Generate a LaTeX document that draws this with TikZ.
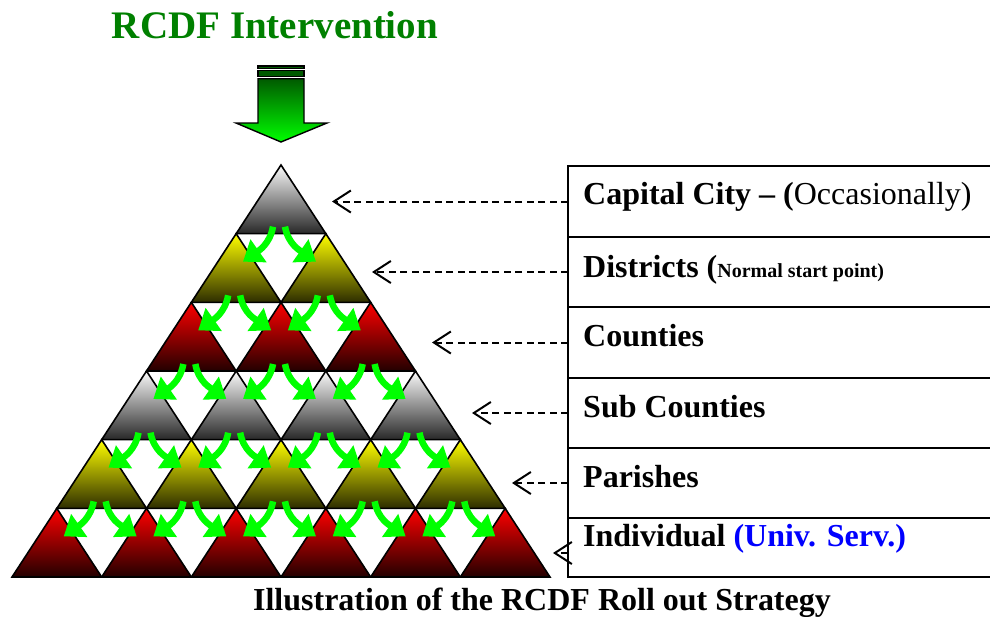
\documentclass[tikz,border=0pt]{standalone}
\usepackage{fontspec}
\setmainfont{Liberation Serif}
\usetikzlibrary{arrows.meta}

\definecolor{titlegreen}{RGB}{0,128,0}
\definecolor{flowgreen}{RGB}{0,255,0}
\definecolor{stemgreen}{RGB}{0,90,0}
\definecolor{servblue}{RGB}{0,0,255}
\definecolor{graytop}{RGB}{250,250,250}
\definecolor{graybottom}{RGB}{40,40,40}
\definecolor{yellowtop}{RGB}{255,255,0}
\definecolor{yellowbottom}{RGB}{45,45,0}
\definecolor{redtop}{RGB}{255,0,0}
\definecolor{redbottom}{RGB}{35,0,0}

\tikzset{
  tri/.style={draw=black, line width=1.6pt},
  flow/.style={draw=flowgreen, line width=6.5pt, -{Triangle[length=19pt 0 0,width=27pt 0 0]}},
  pointer/.style={dash pattern=on 7pt off 4.5pt, line width=2pt, -{Straight Barb[length=17pt 0 0,width=22pt 0 0]}},
  levelbox/.style={draw, line width=1.8pt, minimum width=440pt, anchor=north west, inner sep=0pt, outer sep=0pt},
  leveltext/.style={anchor=base west, inner sep=0pt, font=\fontsize{32}{38}\selectfont},
}

\begin{document}
\begin{tikzpicture}[x=1pt, y=1pt]
  \useasboundingbox (0,0) rectangle (990,-616);

  % Title and intervention arrow
  \node[titlegreen, font=\fontsize{39}{46}\selectfont\bfseries, anchor=base] (title) at (275,-38) {RCDF Intervention};
  \filldraw[fill=stemgreen, draw=black, line width=1.2pt] (258,-66) rectangle (304,-68.7);
  \filldraw[fill=stemgreen, draw=black, line width=1.2pt] (258,-70.7) rectangle (304,-76.7);
  \shadedraw[top color=stemgreen, bottom color=flowgreen, draw=black, line width=1.4pt]
    (258,-78.7) -- (304,-78.7) -- (304,-123) -- (327,-123) -- (281,-142) -- (236,-123) -- (258,-123) -- cycle;

  % Pyramid of levels
  \foreach \r/\ctop/\cbot in {1/graytop/graybottom, 2/yellowtop/yellowbottom, 3/redtop/redbottom,
                              4/graytop/graybottom, 5/yellowtop/yellowbottom, 6/redtop/redbottom} {
    \foreach \i in {1,...,\r} {
      \pgfmathsetmacro{\cx}{281+(2*\i-\r-1)*44.83}
      \pgfmathsetmacro{\cy}{-165-(\r-1)*68.67}
      \shadedraw[tri, top color=\ctop, bottom color=\cbot] (\cx,\cy) -- ++(-44.83,-68.67) -- ++(89.67,0) -- cycle;
    }
  }

  % Roll out arrows
  \foreach \r in {1,...,5} {
    \foreach \i in {1,...,\r} {
      \pgfmathsetmacro{\cx}{281+(2*\i-\r-1)*44.83}
      \pgfmathsetmacro{\cy}{-165-\r*68.67}
      \draw[flow] (\cx-8,\cy+7) to[out=-100,in=35] (\cx-38,\cy-28);
      \draw[flow] (\cx+4,\cy+7) to[out=-80,in=145] (\cx+35,\cy-28);
    }
  }

  % Level boxes
  \node[levelbox, minimum height=71pt] (capital) at (568,-166) {};
  \node[levelbox, minimum height=70pt] (districts) at (568,-237) {};
  \node[levelbox, minimum height=71pt] (counties) at (568,-307) {};
  \node[levelbox, minimum height=70pt] (subcounties) at (568,-378) {};
  \node[levelbox, minimum height=70pt] (parishes) at (568,-448) {};
  \node[levelbox, minimum height=59pt] (individual) at (568,-518) {};

  % Level names
  \node[leveltext] (capitaltext) at (583,-204) {\textbf{Capital City – (}Occasionally)};
  \node[leveltext] (districtstext) at (583,-277) {\textbf{Districts (}{\fontsize{20}{24}\selectfont\bfseries Normal start point)}};
  \node[leveltext] (countiestext) at (583,-346) {\textbf{Counties}};
  \node[leveltext] (subcountiestext) at (583,-417) {\textbf{Sub Counties}};
  \node[leveltext] (parishestext) at (583,-487) {\textbf{Parishes}};
  \node[leveltext] (individualtext) at (583,-546) {\textbf{Individual} \textcolor{servblue}{\textbf{(Univ. Serv.)}}};

  % Dashed pointers
  \coordinate (capitaltip) at (332,-201.5);
  \coordinate (districtstip) at (372,-272);
  \coordinate (countiestip) at (432,-342.5);
  \coordinate (subcountiestip) at (472,-413);
  \coordinate (parishestip) at (512,-483);
  \coordinate (individualtip) at (553,-553);
  \draw[pointer] (capital.west) -- (capitaltip);
  \draw[pointer] (districts.west) -- (districtstip);
  \draw[pointer] (counties.west) -- (countiestip);
  \draw[pointer] (subcounties.west) -- (subcountiestip);
  \draw[pointer] (parishes.west) -- (parishestip);
  \draw[pointer] ([yshift=-5.5pt]individual.west) -- (individualtip);

  % Caption
  \node[font=\fontsize{32}{38}\selectfont\bfseries, anchor=base] (caption) at (542,-610) {Illustration of the RCDF Roll out Strategy};

\end{tikzpicture}
\end{document}
